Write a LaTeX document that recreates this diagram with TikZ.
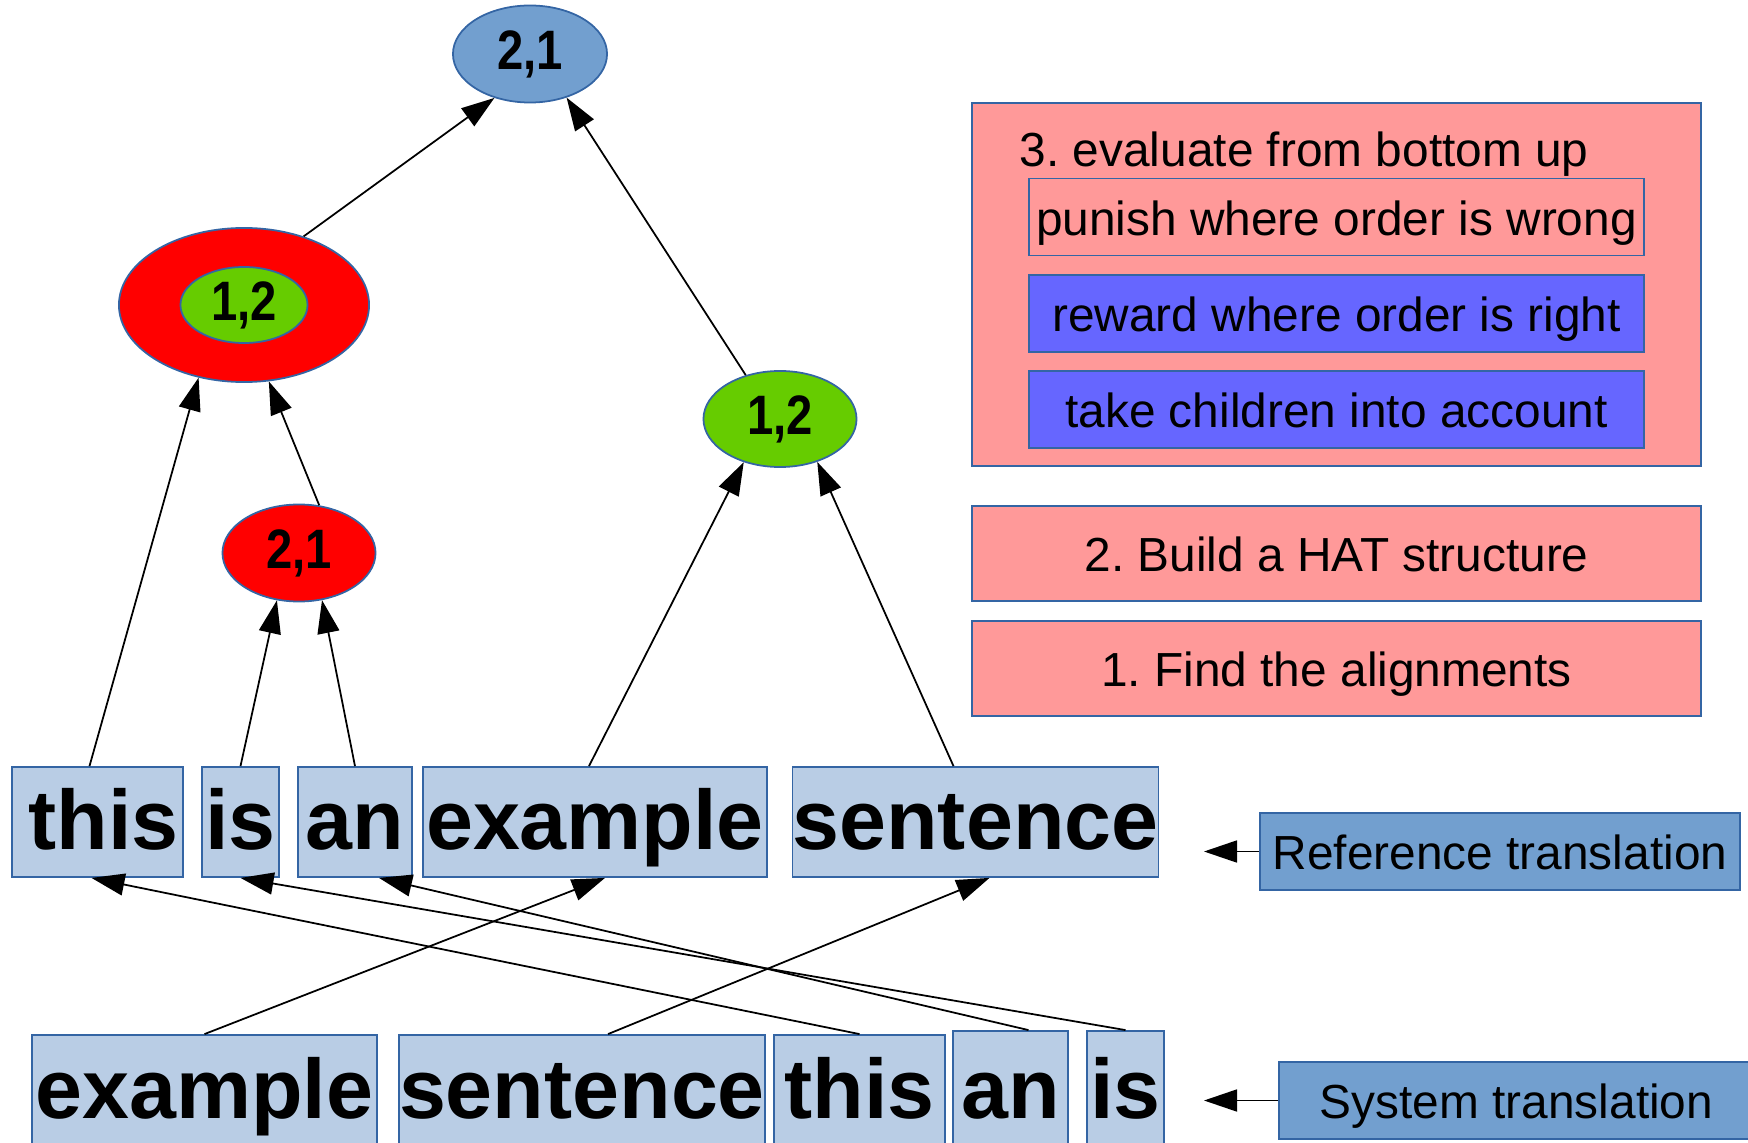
\documentclass[tikz,border=0pt]{standalone}
\usepackage{fontspec}
\setmainfont{Liberation Sans}
\newfontfamily\etroite[FakeStretch=0.85]{Liberation Sans}
\usetikzlibrary{arrows.meta,shapes.geometric}
\definecolor{HATBleu}{RGB}{114,159,207}
\definecolor{HATBord}{RGB}{52,101,164}
\definecolor{HATRouge}{RGB}{255,0,0}
\definecolor{HATVert}{RGB}{102,204,0}
\definecolor{HATMot}{RGB}{185,205,229}
\definecolor{HATRose}{RGB}{255,153,153}
\definecolor{HATViolet}{RGB}{102,102,255}
\tikzset{
	noeud/.style={ellipse, draw=HATBord, line width=0.5pt, inner sep=0pt, minimum width=1.53cm, minimum height=0.97cm, font=\etroite\fontsize{15.8}{18}\selectfont\bfseries},
	mot/.style={rectangle, draw=HATBord, fill=HATMot, line width=0.5pt, inner sep=0pt, minimum height=1.10cm, text height=19pt, text depth=3.6pt, font=\fontsize{24}{28}\selectfont\bfseries},
	etape/.style={rectangle, draw=HATBord, fill=HATRose, line width=0.5pt, inner sep=0pt, minimum width=7.29cm, minimum height=0.95cm, text height=10.5pt, text depth=0pt, font=\fontsize{13.6}{16}\selectfont},
	critere/.style={etape, minimum width=6.15cm, minimum height=0.77cm},
	legende/.style={etape, fill=HATBleu, minimum height=0.77cm},
	fleche/.style={-{Triangle[length=3.3mm,width=2.2mm]}, line width=0.5pt}
}

\begin{document}
\frenchspacing
\begin{tikzpicture}[x=0.01cm,y=-0.01cm]
			\useasboundingbox (0,0) rectangle (1748,1143);
			\draw (530,54) node[noeud, fill=HATBleu, minimum width=1.54cm] (racine) {2,1};
			\draw (244,305) node[noeud, fill=HATRouge, minimum width=2.5cm, minimum height=1.54cm] (gauche) {};
			\draw (244,305) node[noeud, fill=HATVert, minimum width=1.27cm, minimum height=0.76cm] (gaucheint) {1,2};
			\draw (299,553) node[noeud, fill=HATRouge] (petit) {2,1};
			\draw (780,419) node[noeud, fill=HATVert, minimum height=0.96cm] (droite) {1,2};

			\draw (97.5,822) node[mot, minimum width=1.71cm] (refthis) {\hspace{0.12cm}this};
			\draw (240.5,822) node[mot, minimum width=0.77cm] (refis) {is};
			\draw (355,822) node[mot, minimum width=1.14cm] (refan) {an};
			\draw (595,822) node[mot, minimum width=3.44cm] (refexample) {example};
			\draw (975.5,822) node[mot, minimum width=3.65cm] (refsentence) {sentence};

			\draw (204.5,1091) node[mot, minimum width=3.45cm, minimum height=1.12cm] (sysexample) {example};
			\draw (582,1091) node[mot, minimum width=3.66cm, minimum height=1.12cm] (syssentence) {sentence};
			\draw (859.5,1091) node[mot, minimum width=1.71cm, minimum height=1.12cm] (systhis) {this};
			\draw (1010.5,1091) node[mot, minimum width=1.15cm, minimum height=1.2cm] (sysan) {an};
			\draw (1125.5,1091) node[mot, minimum width=0.77cm, minimum height=1.2cm] (sysis) {is};

			\draw (1336.5,284.5) node[etape, minimum height=3.63cm] (evaluer) {};
			\draw (1019,167) node[anchor=base west, inner sep=0pt, font=\fontsize{13.6}{16}\selectfont] (titre) {3. evaluate from bottom up};
			\draw (1336.5,217) node[critere] (punir) {punish where order is wrong};
			\draw (1336.5,313.5) node[critere, fill=HATViolet] (recompenser) {reward where order is right};
			\draw (1336.5,409.5) node[critere, fill=HATViolet] (enfants) {take children into account};
			\draw (1336.5,553.5) node[etape] (construire) {2. Build a HAT structure};
			\draw (1336.5,668.5) node[etape] (aligner) {1. Find the alignments};

			\draw (1500,851.5) node[legende, minimum width=4.8cm] (legref) {Reference translation};
			\draw (1516.5,1100.5) node[legende, minimum width=4.75cm] (legsys) {System translation};
			\coordinate (flecheref) at (1204,851.5);
			\coordinate (flechesys) at (1204,1100.5);

			\draw[fleche] (gauche.49) -- (racine.-129);
			\draw[fleche] (droite.128) -- (racine.-50);
			\draw[fleche] ([xshift=-0.8mm]refthis.north) -- (gauche.-122);
			\draw[fleche] (petit.67) -- (gauche.-72);
			\draw[fleche] (refis.north) -- (petit.-115);
			\draw[fleche] (refan.north) -- (petit.-64);
			\draw[fleche] ([xshift=-0.6mm]refexample.north) -- (droite.-130);
			\draw[fleche] ([xshift=-2.2mm]refsentence.north) -- (droite.-49);

			\draw[fleche] (sysexample.north) -- ([xshift=1mm]refexample.south);
			\draw[fleche] ([xshift=2.6mm]syssentence.north) -- ([xshift=1.4mm]refsentence.south);
			\draw[fleche] (systhis.north) -- ([xshift=-0.6mm]refthis.south);
			\draw[fleche] ([xshift=1.8mm]sysan.north) -- ([xshift=2.4mm]refan.south);
			\draw[fleche] (sysis.north) -- (refis.south);

			\draw[fleche] (legref.west) -- (flecheref);
			\draw[fleche] (legsys.west) -- (flechesys);
		\end{tikzpicture}
\end{document}
